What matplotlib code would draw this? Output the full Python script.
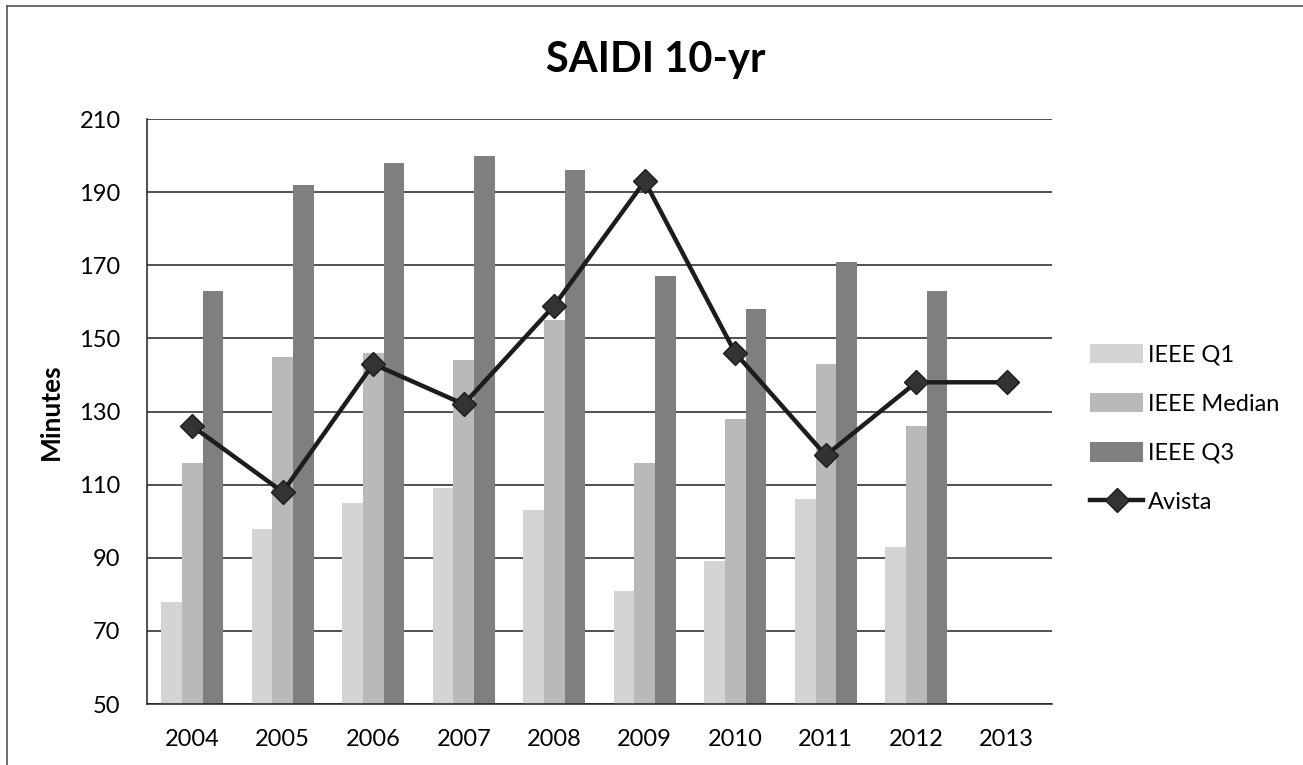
import matplotlib
matplotlib.use('Agg')
import matplotlib.pyplot as plt
from matplotlib.lines import Line2D
from matplotlib.patches import Patch
import numpy as np

plt.rcParams['font.family'] = ['Lato', 'DejaVu Sans']

# ── data ──
years = ['2004', '2005', '2006', '2007', '2008', '2009', '2010', '2011', '2012', '2013']
ieee_q1 = [78, 98, 105, 109, 103, 81, 89, 106, 93, np.nan]
ieee_median = [116, 145, 146, 144, 155, 116, 128, 143, 126, np.nan]
ieee_q3 = [163, 192, 198, 200, 196, 167, 158, 171, 163, np.nan]
avista = [126, 108, 143, 132, 159, 193, 146, 118, 138, 138]

c_q1, c_med, c_q3 = '#d4d4d4', '#b9b9b9', '#7f7f7f'
line_c = '#1c1c1c'

fig = plt.figure(figsize=(13.03, 7.65), dpi=100)
ax = fig.add_axes([0.1128, 0.0797, 0.6946, 0.7647])

x = np.arange(len(years))
w = 0.227
ax.bar(x - w, ieee_q1, w, color=c_q1, edgecolor='none', zorder=2)
ax.bar(x, ieee_median, w, color=c_med, edgecolor='none', zorder=2)
ax.bar(x + w, ieee_q3, w, color=c_q3, edgecolor='none', zorder=2)
ax.plot(x, avista, color=line_c, lw=3.2, marker='D', ms=12, mfc='#333', mec=line_c, zorder=3)

ax.set_xlim(-0.5, len(years) - 0.5)
ax.set_ylim(50, 210)
ax.set_yticks(np.arange(50, 211, 20))
ax.set_xticks(x)
ax.set_xticklabels(years)
ax.tick_params(axis='both', length=0, labelsize=17, colors='black')
ax.tick_params(axis='y', pad=19)
ax.tick_params(axis='x', pad=18)
ax.yaxis.grid(True, color='#222', lw=1.1, zorder=0)
ax.set_axisbelow(True)
for s in ['top', 'right']:
    ax.spines[s].set_visible(False)
for s in ['left', 'bottom']:
    ax.spines[s].set_color('#222')
    ax.spines[s].set_linewidth(1.1)

ax.set_ylabel('Minutes', fontsize=19, fontweight='bold', labelpad=12)
fig.text(0.503, 0.921, 'SAIDI 10-yr', ha='center', va='center', fontsize=30, fontweight='bold')

# legend
handles = [Patch(facecolor=c_q1, edgecolor='none'),
           Patch(facecolor=c_med, edgecolor='none'),
           Patch(facecolor=c_q3, edgecolor='none'),
           Line2D([], [], color=line_c, lw=3.2, marker='D', ms=12, mfc='#333', mec=line_c)]
fig.legend(handles, ['IEEE Q1', 'IEEE Median', 'IEEE Q3', 'Avista'],
           loc='center left', bbox_to_anchor=(0.8275, 0.44), frameon=False,
           fontsize=17, handlelength=2.25, handleheight=0.9, handletextpad=0.2,
           labelspacing=1.15, borderpad=0)

# outer chart border (left + top)
fig.add_artist(Line2D([7 / 1303, 7 / 1303], [0, 1 - 6 / 765], color='#555', lw=1.2,
                      transform=fig.transFigure))
fig.add_artist(Line2D([7 / 1303, 1], [1 - 6 / 765, 1 - 6 / 765], color='#555', lw=1.2,
                      transform=fig.transFigure))

fig.savefig('out.png', dpi=100, facecolor='white')
